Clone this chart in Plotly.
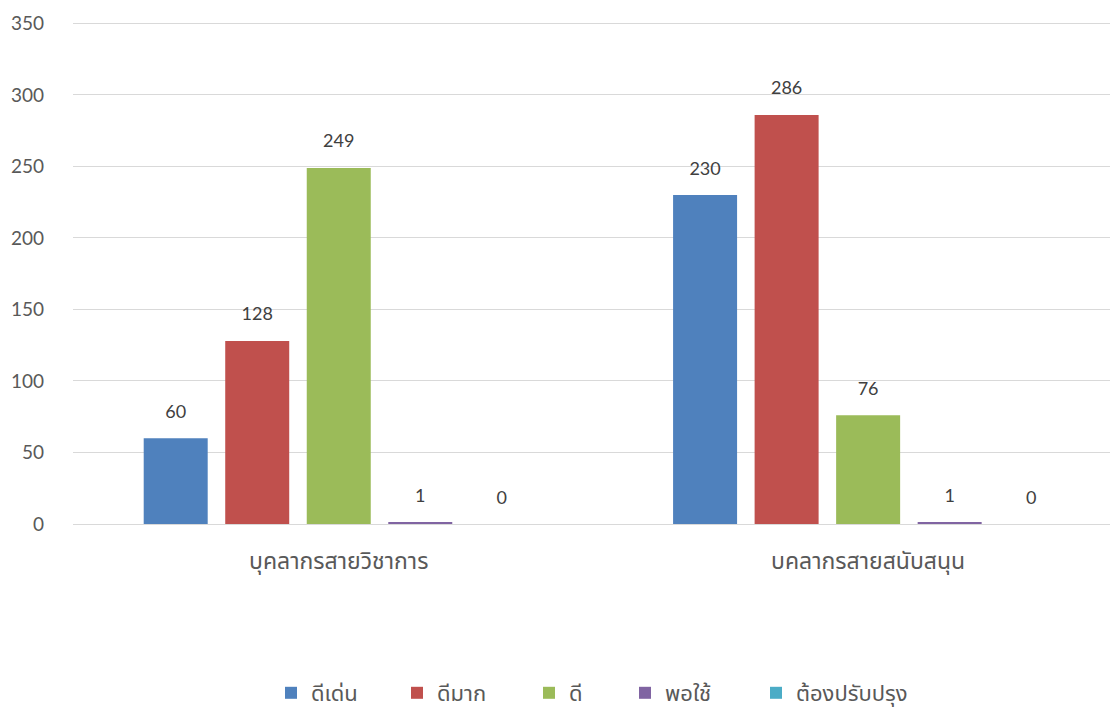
import plotly.graph_objects as go

categories = ["บุคลากรสายวิชาการ", "บคลากรสายสนับสนุน"]
series_names = ["ดีเด่น", "ดีมาก", "ดี", "พอใช้", "ต้องปรับปรุง"]
series_values = [
    [60, 230],
    [128, 286],
    [249, 76],
    [1, 1],
    [0, 0],
]
colors = ["#4F81BD", "#C0504D", "#9BBB59", "#8064A2", "#4BACC6"]
y_ticks = [0, 50, 100, 150, 200, 250, 300, 350]
legend_left_px = [271, 397, 529, 625, 756]

FONT = "Lato, Noto Sans Thai, Noto Sans, sans-serif"
BODY = 8  # default page body margin
W, H = 1118 - BODY, 708 - BODY
L, T, B = 73 - BODY, 22 - BODY, 708 - 524
PW = 1118 - 73
PH = 524 - 22

fig = go.Figure()
for i, (name, vals, col) in enumerate(zip(series_names, series_values, colors)):
    lg = "legend" if i == 0 else f"legend{i+1}"
    fig.add_trace(go.Bar(
        name=name, x=categories, y=vals,
        marker=dict(color=col, line=dict(width=0)),
        offsetgroup=str(i), legend=lg,
    ))
    fig.add_trace(go.Scatter(
        x=categories, y=vals, mode="markers+text",
        marker=dict(size=24, color="rgba(0,0,0,0)"),
        text=[str(v) for v in vals], textposition="top center",
        textfont=dict(size=18, color="#404040", family=FONT),
        offsetgroup=str(i), showlegend=False, hoverinfo="skip",
        cliponaxis=False,
    ))

layout_legends = {}
for i, px in enumerate(legend_left_px):
    key = "legend" if i == 0 else f"legend{i+1}"
    layout_legends[key] = dict(
        orientation="h", x=(px - 73) / PW, xanchor="left",
        y=(524 - 693) / PH, yanchor="middle",
        font=dict(size=22, color="#595959", family=FONT),
        bgcolor="rgba(0,0,0,0)", itemwidth=30,
    )

fig.update_layout(
    width=W, height=H,
    margin=dict(l=L, r=0, t=T, b=B, autoexpand=False),
    paper_bgcolor="white", plot_bgcolor="white",
    barmode="group", bargap=0.23, bargroupgap=0.215,
    scattermode="group", scattergap=0.23,
    font=dict(family=FONT, size=18, color="#595959"),
    showlegend=True,
    **layout_legends,
)
fig.update_xaxes(range=[-0.502, 1.472], showgrid=False, showline=True,
                 linecolor="#D9D9D9", linewidth=1.3, ticks="", automargin=False,
                 tickfont=dict(size=23, color="#595959"), ticklabelstandoff=16)
fig.update_yaxes(range=[0, 351], tickvals=y_ticks, showgrid=True, gridcolor="#D9D9D9",
                 gridwidth=1.3, zeroline=False, showline=False, ticks="", automargin=False,
                 tickfont=dict(size=19, color="#595959"), ticklabelstandoff=28)

fig.write_html("out.html")
